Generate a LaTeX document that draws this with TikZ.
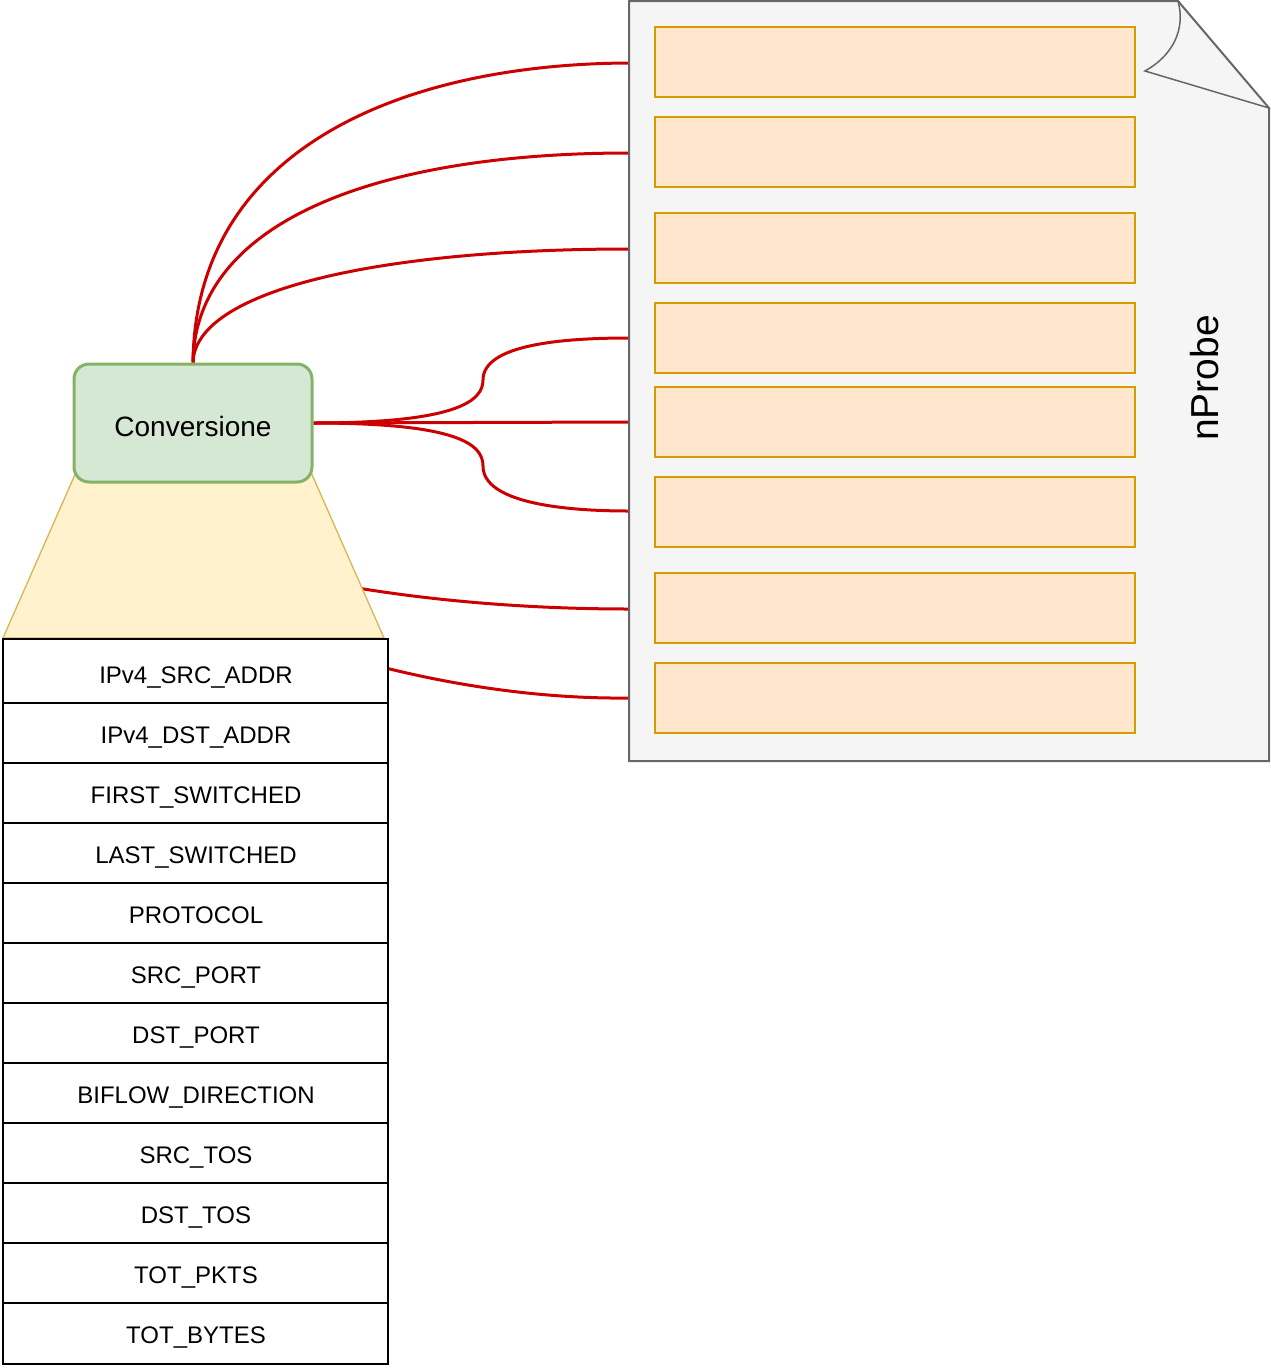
\documentclass[tikz,border=0pt]{standalone}
\usepackage{fontspec}
\setmainfont{Liberation Sans}
\definecolor{lineRed}{HTML}{CC0000}
\definecolor{convFill}{HTML}{D5E8D4}
\definecolor{convStroke}{HTML}{82B366}
\definecolor{trapFill}{HTML}{FFF2CC}
\definecolor{trapStroke}{HTML}{D6B656}
\definecolor{fieldFill}{HTML}{FFE6CC}
\definecolor{fieldStroke}{HTML}{D79B00}
\definecolor{docFill}{HTML}{F5F5F5}
\definecolor{docStroke}{HTML}{666666}
\pgfdeclarelayer{bg}
\pgfsetlayers{bg,main}
\begin{document}
\begin{tikzpicture}[x=1pt,y=-1pt,
  redline/.style={draw=lineRed, line width=3pt},
  fieldbox/.style={draw=fieldStroke, fill=fieldFill, line width=2pt, minimum width=480pt, minimum height=70pt, inner sep=0pt},
  rowtext/.style={font=\fontsize{24}{28}\selectfont, inner sep=0pt, text height=17pt, text depth=0pt},
  convbox/.style={draw=convStroke, fill=convFill, line width=3pt, rounded corners=15pt, minimum width=238pt, minimum height=118pt, inner sep=0pt, font=\fontsize{28}{32}\selectfont, text height=26pt, text depth=0pt},
]
\useasboundingbox (0,0) rectangle (1270,1368);

% document shape
\draw[fill=docFill, draw=docStroke, line width=2pt, line join=miter]
  (629,1) -- (1178,1) -- (1269,108) -- (1269,761) -- (629,761) -- cycle;
\draw[draw=docStroke, line width=1.5pt, line join=miter]
  (1178,1) .. controls (1186,30) and (1172,56) .. (1145,71) -- (1269,108);

% connector end points on the document edge
\coordinate (e1) at (629,63);
\coordinate (e2) at (629,153);
\coordinate (e3) at (629,249);
\coordinate (e4) at (629,338);
\coordinate (e5) at (629,422);
\coordinate (e6) at (629,511);
\coordinate (e7) at (629,609);
\coordinate (e8) at (629,698);

% field boxes
\foreach \c [count=\i] in {62,152,248,338,422,512,608,698}
  \node[fieldbox] (b\i) at (895,\c) {};

% nProbe label
\node[rotate=90, font=\fontsize{39}{44}\selectfont, inner sep=0pt] (np) at (1205,378) {nProbe};

% trapezoid
\draw[fill=trapFill, draw=trapStroke, line width=1.3pt]
  (77,470) -- (310,470) -- (384,638) -- (3,638) -- cycle;

% Conversione
\node[convbox] (conv) at (193,423) {Conversione};

% hidden start points
\coordinate (h7) at (340,585);
\coordinate (h8) at (370,664);

% red connectors
\begin{pgfonlayer}{bg}
\draw[redline] (conv.north) .. controls (195,150) and (400,64) .. (e1);
\draw[redline] (conv.north) .. controls (195,220) and (380,153) .. (e2);
\draw[redline] (conv.north) .. controls (195,290) and (380,249) .. (e3);
\draw[redline] (conv.east) .. controls (460,423) and (483,400) .. (483,380)
  .. controls (483,345) and (560,338) .. (e4);
\draw[redline] (conv.east) -- (e5);
\draw[redline] (conv.east) .. controls (460,423) and (483,445) .. (483,466)
  .. controls (483,502) and (560,511) .. (e6);
\draw[redline] (conv.center) -- (h7) .. controls (430,601) and (530,609) .. (e7);
\draw[redline] (conv.center) -- (h8) .. controls (450,685) and (540,699) .. (e8);
\end{pgfonlayer}

% table of fields
\draw[line width=2pt, fill=white] (3,639) rectangle (388,1364);
\foreach \y in {703,763,823,883,943,1003,1063,1123,1183,1243,1303}
  \draw[line width=1.5pt] (3,\y) -- (388,\y);
\foreach \t [count=\i from 0] in {IPv4\_SRC\_ADDR, IPv4\_DST\_ADDR, FIRST\_SWITCHED, LAST\_SWITCHED, PROTOCOL, SRC\_PORT, DST\_PORT, BIFLOW\_DIRECTION, SRC\_TOS, DST\_TOS, TOT\_PKTS, TOT\_BYTES}
  \node[rowtext] (row\i) at (196,{675+60*\i}) {\t};
\end{tikzpicture}
\end{document}
